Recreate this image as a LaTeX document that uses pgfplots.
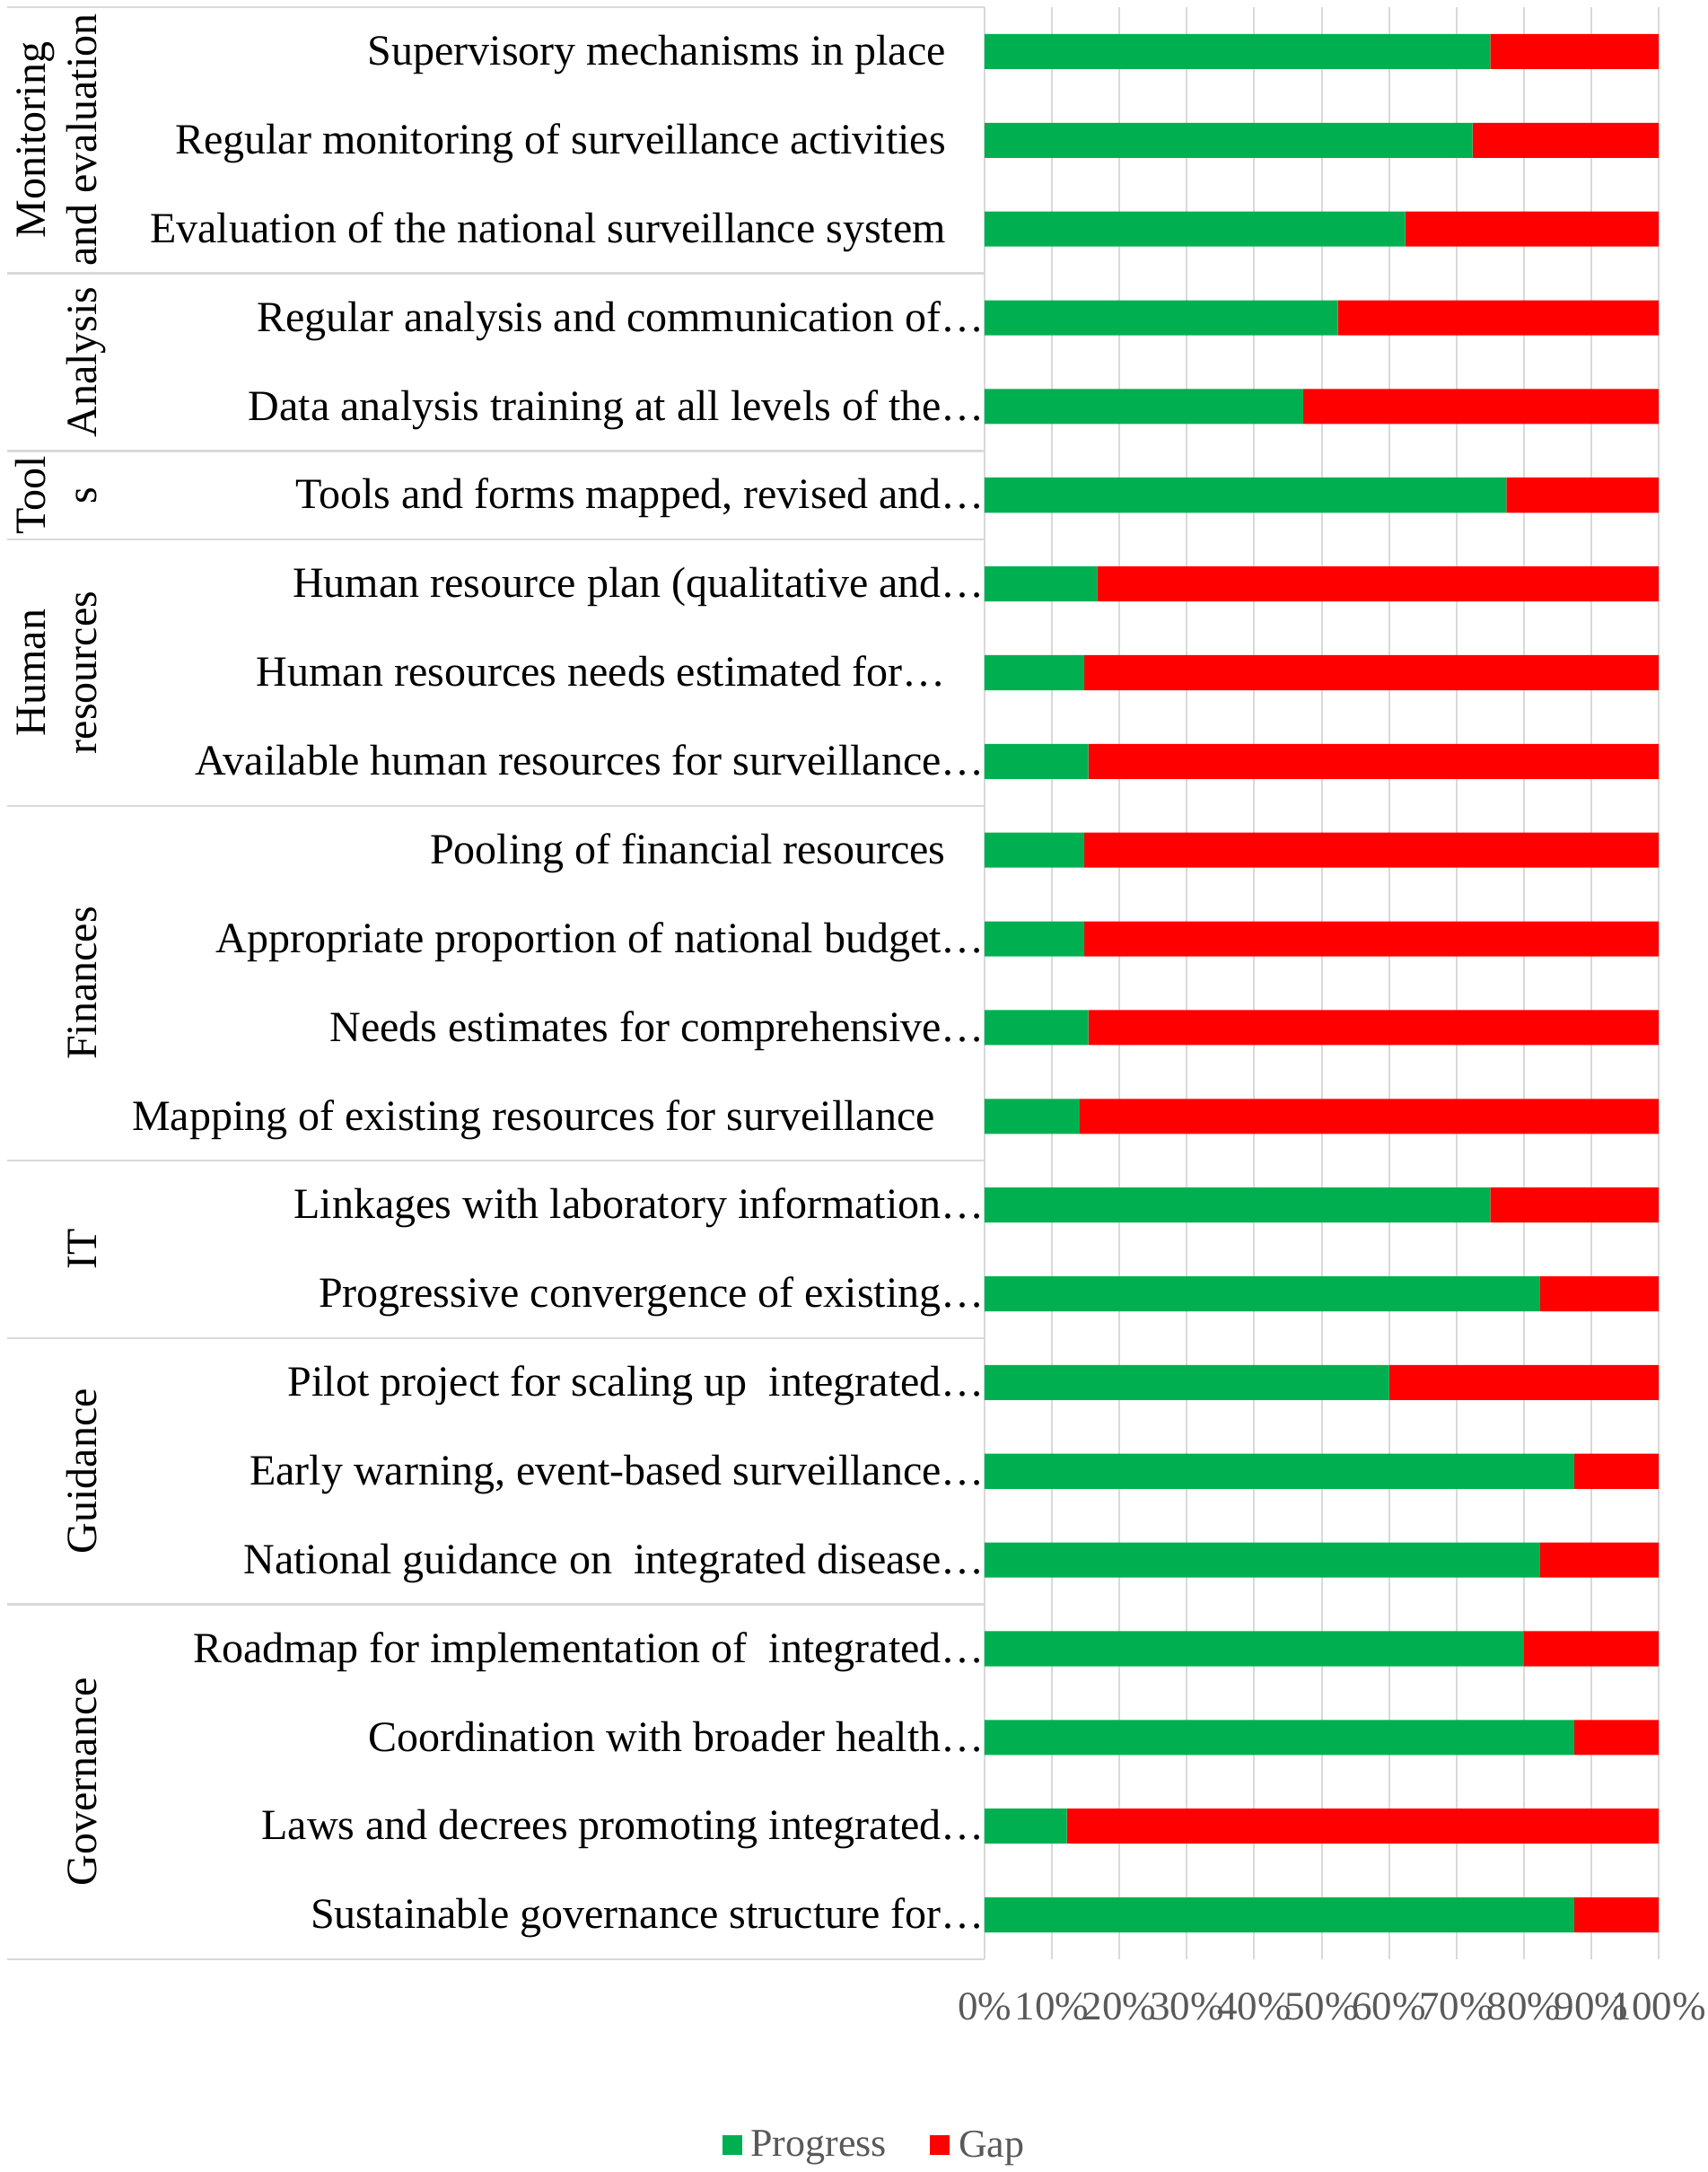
\documentclass[border=0pt]{standalone}
\usepackage{fontspec}
\setmainfont{Liberation Serif}
\usepackage{pgfplots}
\usepackage{pgfplotstable}
\pgfplotsset{compat=1.18}

\definecolor{progress}{HTML}{00B050}
\definecolor{gapred}{HTML}{FF0000}
\definecolor{gridgray}{HTML}{D9D9D9}
\definecolor{txtgray}{HTML}{595959}

% truncated labels reach the axis line
\newcommand{\tr}{\kern-21.5pt}

% y = 21 is the top row
\pgfplotstableread{
y  prog  gap
21 75.0  25.0
20 72.4  27.6
19 62.4  37.6
18 52.4  47.6
17 47.3  52.7
16 77.4  22.6
15 16.7  83.3
14 14.8  85.2
13 15.4  84.6
12 14.8  85.2
11 14.8  85.2
10 15.4  84.6
9  14.1  85.9
8  75.0  25.0
7  82.4  17.6
6  60.0  40.0
5  87.5  12.5
4  82.4  17.6
3  80.0  20.0
2  87.5  12.5
1  12.2  87.8
0  87.5  12.5
}\scores

\begin{document}
\begin{tikzpicture}
\useasboundingbox (0,0) rectangle (951pt,1210pt);
\begin{axis}[
  at={(548.5pt,118.5pt)}, anchor=south west,
  width=375.5pt, height=1087.5pt, scale only axis,
  xbar stacked, bar width=0.395,
  xmin=0, xmax=100, ymin=-0.5, ymax=21.5,
  xtick={0,10,20,30,40,50,60,70,80,90,100},
  xticklabels={0\%,10\%,20\%,30\%,40\%,50\%,60\%,70\%,80\%,90\%,100\%},
  xmajorgrids, grid style={gridgray, line width=1pt},
  axis line style={draw=none}, major tick length=0pt,
  ytick={0,...,21},
  yticklabels={
    Sustainable governance structure for…\tr,
    Laws and decrees promoting integrated…\tr,
    Coordination with broader health…\tr,
    Roadmap for implementation of~ integrated…\tr,
    National guidance on~ integrated disease…\tr,
    {Early warning, event-based surveillance…\tr},
    Pilot project for scaling up~ integrated…\tr,
    Progressive convergence of existing…\tr,
    Linkages with laboratory information…\tr,
    Mapping of existing resources for surveillance\kern6pt,
    Needs estimates for comprehensive…\tr,
    Appropriate proportion of national budget…\tr,
    Pooling of financial resources,
    Available human resources for surveillance…\tr,
    Human resources needs estimated for…,
    Human resource plan (qualitative and…\tr,
    {Tools and forms mapped, revised and…\tr},
    Data analysis training at all levels of the…\tr,
    Regular analysis and communication of…\tr,
    Evaluation of the national surveillance system,
    Regular monitoring of surveillance activities,
    Supervisory mechanisms in place},
  yticklabel style={font=\fontsize{24pt}{28.8pt}\selectfont, anchor=east,
    inner sep=0pt, xshift=-21.5pt, text height=21.4pt, text depth=6.2pt},
  xticklabel style={font=\color{txtgray}\fontsize{22.5pt}{27pt}\selectfont,
    anchor=base, inner sep=0pt, yshift=-33.5pt},
  clip=false,
  legend style={at={(axis description cs:-0.1625,-0.0952)}, anchor=center,
    draw=none, font=\color{txtgray}\fontsize{22pt}{26pt}\selectfont,
    /tikz/every even column/.append style={column sep=22pt}},
  legend columns=2,
  legend image code/.code={\fill[#1] (0pt,-5.5pt) rectangle (11pt,5.5pt);
    \path (14pt,0pt);},
]
\addplot[fill=progress, draw=none] table[x=prog, y=y] {\scores};
\addplot[fill=gapred, draw=none] table[x=gap, y=y] {\scores};
\legend{Progress, Gap}

% group separators in the label area
\draw[gridgray, line width=1.2pt] (axis cs:-145,21.5) -- (axis cs:0,21.5);
\draw[gridgray, line width=1.2pt] (axis cs:-145,18.5) -- (axis cs:0,18.5);
\draw[gridgray, line width=1.2pt] (axis cs:-145,16.5) -- (axis cs:0,16.5);
\draw[gridgray, line width=1.2pt] (axis cs:-145,15.5) -- (axis cs:0,15.5);
\draw[gridgray, line width=1.2pt] (axis cs:-145,12.5) -- (axis cs:0,12.5);
\draw[gridgray, line width=1.2pt] (axis cs:-145,8.5) -- (axis cs:0,8.5);
\draw[gridgray, line width=1.2pt] (axis cs:-145,6.5) -- (axis cs:0,6.5);
\draw[gridgray, line width=1.2pt] (axis cs:-145,3.5) -- (axis cs:0,3.5);
\draw[gridgray, line width=1.2pt] (axis cs:-145,-0.5) -- (axis cs:0,-0.5);

% group names
\tikzset{grp/.style={rotate=90, anchor=base, inner sep=0pt,
  font=\fontsize{24pt}{28.8pt}\selectfont}}
\node[grp] at (axis cs:-139.4,20) {Monitoring};
\node[grp] at (axis cs:-131.8,20) {and evaluation};
\node[grp] at (axis cs:-131.8,17.5) {Analysis};
\node[grp] at (axis cs:-139.4,16) {Tool};
\node[grp] at (axis cs:-131.8,16) {s};
\node[grp] at (axis cs:-139.4,14) {Human};
\node[grp] at (axis cs:-131.8,14) {resources};
\node[grp] at (axis cs:-131.8,10.5) {Finances};
\node[grp] at (axis cs:-131.8,7.5) {IT};
\node[grp] at (axis cs:-131.8,5) {Guidance};
\node[grp] at (axis cs:-131.8,1.5) {Governance};
\end{axis}
\end{tikzpicture}
\end{document}
